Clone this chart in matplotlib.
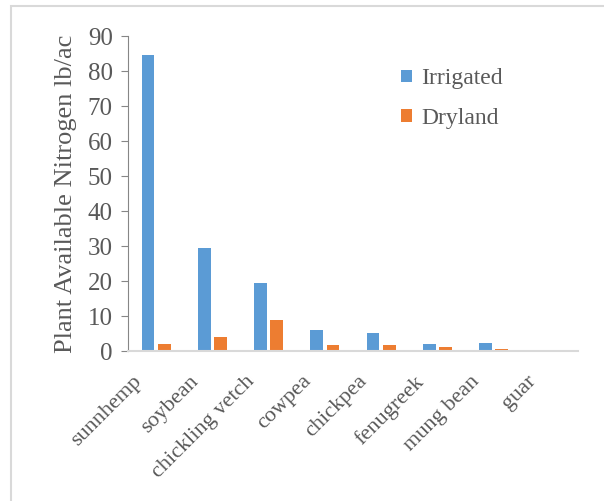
import matplotlib
matplotlib.use('Agg')
import matplotlib.pyplot as plt
import numpy as np
from matplotlib.patches import Rectangle

# crops and plant available N (lb/ac)
crops = ['sunnhemp', 'soybean', 'chickling vetch', 'cowpea', 'chickpea',
         'fenugreek', 'mung bean', 'guar']
irrigated = [84.6, 29.4, 19.3, 6.0, 5.2, 2.0, 2.2, 0.3]
dryland = [2.0, 4.1, 8.9, 1.6, 1.6, 1.1, 0.6, 0.1]

plt.rcParams['font.family'] = ['Liberation Serif', 'DejaVu Serif']
grey = '#595959'

fig = plt.figure(figsize=(6.04, 5.01), dpi=100)
# light frame around the chart
fig.patches.append(Rectangle((11 / 604, -0.1), 1.2, 1.1 - 6 / 501,
                             transform=fig.transFigure, fill=False,
                             edgecolor='#d9d9d9', lw=1.5))

ax = fig.add_axes([0.212, 0.2994, 0.745, 0.6286])
x = np.arange(len(crops))
w = 0.225
ax.bar(x - 0.145, irrigated, w, color='#5b9bd5', label='Irrigated')
ax.bar(x + 0.145, dryland, w, color='#ed7d31', label='Dryland')

ax.set_xlim(-0.5, len(crops) - 0.5)
ax.set_ylim(0, 90)
ax.set_yticks(range(0, 91, 10))
# labels hang a little left of each group (ticks themselves are hidden)
ax.set_xticks(x - 0.42)
ax.set_xticklabels(crops, rotation=45, ha='right', rotation_mode='anchor',
                   fontsize=16, color=grey)
ax.tick_params(axis='x', length=0, pad=15)
ax.tick_params(axis='y', labelsize=18, labelcolor=grey, color='#868686',
               direction='out', length=5, pad=6)
ax.set_ylabel('Plant Available Nitrogen lb/ac', fontsize=19, color=grey,
              labelpad=8)

for s in ['top', 'right']:
    ax.spines[s].set_visible(False)
ax.spines['left'].set_color('#868686')
ax.spines['bottom'].set_color('#d9d9d9')
ax.spines['bottom'].set_linewidth(1.5)

leg = ax.legend(loc='upper left', bbox_to_anchor=(0.56, 0.965), frameon=False,
                fontsize=17, handlelength=0.45, handleheight=0.45,
                handletextpad=0.4, labelspacing=0.78)
for t in leg.get_texts():
    t.set_color(grey)

fig.savefig('out.png', dpi=100)
